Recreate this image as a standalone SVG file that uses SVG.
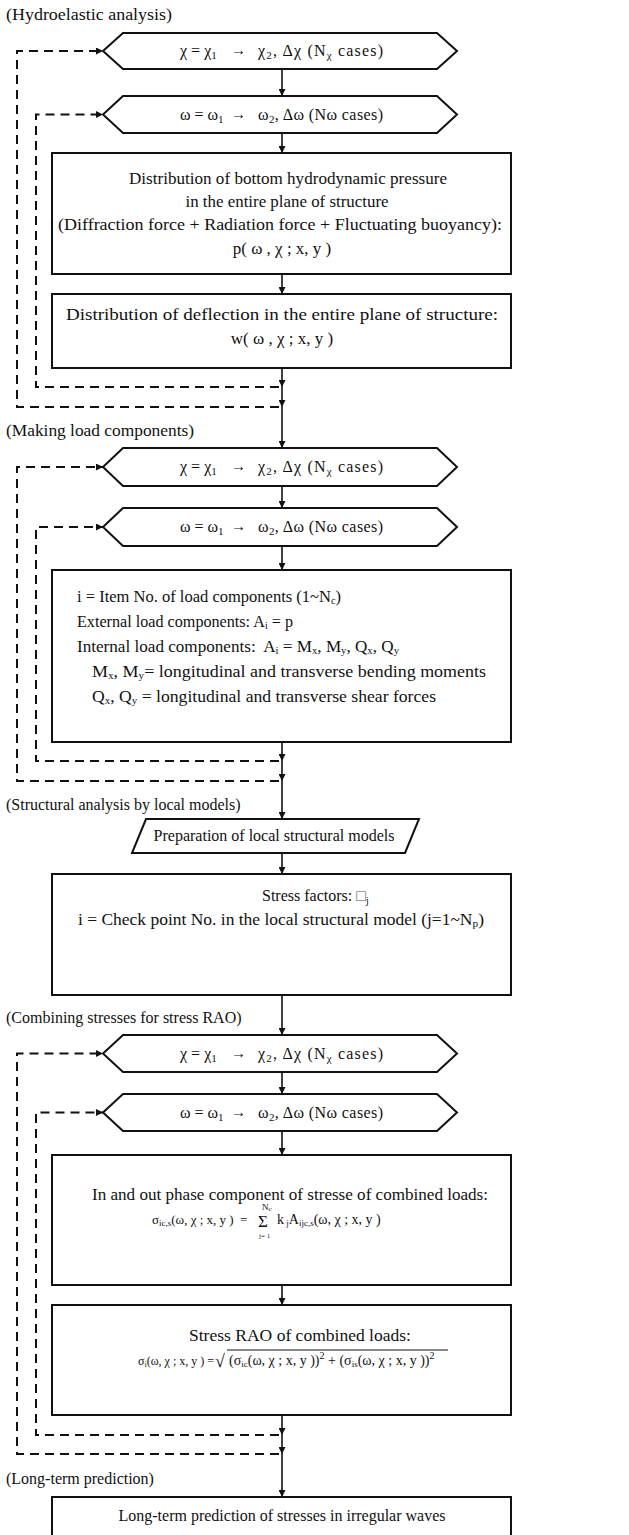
<svg xmlns="http://www.w3.org/2000/svg" width="629" height="1535" viewBox="0 0 629 1535">
<style>
text{font-family:"Liberation Serif","Times New Roman",serif;fill:#111}
.lbl{font-size:16px}
.hx{font-size:16px}
.ar{font-size:15px}
.bx{font-size:17px}
.bl{font-size:16px}
.fm{font-size:14px}
.shape{fill:#fff;stroke:#111;stroke-width:2}
.solid{fill:none;stroke:#111;stroke-width:1.6}
.dash{fill:none;stroke:#111;stroke-width:2;stroke-dasharray:9 6}
</style>
<defs>
<marker id="ah" markerUnits="userSpaceOnUse" markerWidth="8" markerHeight="7" refX="7" refY="3.5" orient="auto"><path d="M0,0 L7,3.5 L0,7 z" fill="#111"/></marker>
</defs>
<rect width="629" height="1535" fill="#fff"/>

<g id="connectors">
<path class="solid" marker-end="url(#ah)" d="M282,69 V96"/>
<path class="solid" marker-end="url(#ah)" d="M282,133 V153"/>
<path class="solid" marker-end="url(#ah)" d="M282,274 V294"/>
<path class="solid" marker-end="url(#ah)" d="M282,368 V387"/>
<path class="solid" marker-end="url(#ah)" d="M282,387 V407"/>
<path class="solid" marker-end="url(#ah)" d="M282,407 V448"/>
<path class="dash" marker-end="url(#ah)" d="M279,387 H36 V114.5 H103"/>
<path class="dash" marker-end="url(#ah)" d="M279,407 H17 V51 H103"/>

<path class="solid" marker-end="url(#ah)" d="M282,486 V508"/>
<path class="solid" marker-end="url(#ah)" d="M282,546 V570"/>
<path class="solid" marker-end="url(#ah)" d="M282,742 V761"/>
<path class="solid" marker-end="url(#ah)" d="M282,761 V781"/>
<path class="solid" marker-end="url(#ah)" d="M282,781 V819"/>
<path class="dash" marker-end="url(#ah)" d="M279,761 H36 V527 H103"/>
<path class="dash" marker-end="url(#ah)" d="M279,781 H17 V467 H103"/>

<path class="solid" marker-end="url(#ah)" d="M282,853 V874"/>
<path class="solid" marker-end="url(#ah)" d="M282,995 V1035"/>

<path class="solid" marker-end="url(#ah)" d="M282,1072 V1094"/>
<path class="solid" marker-end="url(#ah)" d="M282,1131 V1155"/>
<path class="solid" marker-end="url(#ah)" d="M282,1285 V1305"/>
<path class="solid" marker-end="url(#ah)" d="M282,1415 V1435"/>
<path class="solid" marker-end="url(#ah)" d="M282,1435 V1454"/>
<path class="solid" marker-end="url(#ah)" d="M282,1454 V1497"/>
<path class="dash" marker-end="url(#ah)" d="M279,1435 H36 V1112.5 H103"/>
<path class="dash" marker-end="url(#ah)" d="M279,1454 H17 V1053.5 H103"/>
</g>

<g id="label-hydro"><text class="lbl" x="6" y="20" textLength="166" lengthAdjust="spacingAndGlyphs">(Hydroelastic analysis)</text></g>

<g id="hex1">
<polygon class="shape" points="103,51 123,33 437,33 457,51 437,69 123,69"/>
<text class="hx" x="180" y="56">χ = χ<tspan font-size="11" dy="3">1</tspan></text>
<text class="ar" x="231" y="55">→</text>
<text class="hx" x="258" y="56" textLength="125" lengthAdjust="spacing">χ<tspan font-size="11" dy="3">2</tspan><tspan dy="-3">, Δχ  (N</tspan><tspan font-size="11" dy="3">χ</tspan><tspan dy="-3"> cases)</tspan></text>
</g>
<g id="hex2">
<polygon class="shape" points="103,114.5 123,96 437,96 457,114.5 437,133 123,133"/>
<text class="hx" x="180" y="119.5">ω = ω<tspan font-size="11" dy="3">1</tspan></text>
<text class="ar" x="231" y="118.5">→</text>
<text class="hx" x="258" y="119.5" textLength="125" lengthAdjust="spacing">ω<tspan font-size="11" dy="3">2</tspan><tspan dy="-3">, Δω (Nω cases)</tspan></text>
</g>
<g id="box1">
<rect class="shape" x="52" y="153" width="459" height="121"/>
<text class="bx" x="288" y="184" text-anchor="middle" textLength="318" lengthAdjust="spacingAndGlyphs">Distribution of bottom hydrodynamic pressure</text>
<text class="bx" x="287" y="207" text-anchor="middle" textLength="203" lengthAdjust="spacingAndGlyphs">in the entire plane of structure</text>
<text class="bx" x="280" y="230" text-anchor="middle" textLength="444" lengthAdjust="spacingAndGlyphs">(Diffraction force + Radiation force + Fluctuating buoyancy):</text>
<text class="bx" x="282" y="254" text-anchor="middle" xml:space="preserve">p( ω , χ ; x, y )</text>
</g>
<g id="box2">
<rect class="shape" x="52" y="294" width="459" height="74"/>
<text class="bx" x="282" y="320" text-anchor="middle" textLength="432" lengthAdjust="spacingAndGlyphs">Distribution of deflection in the entire plane of structure:</text>
<text class="bx" x="282" y="344" text-anchor="middle">w( ω , χ ; x, y )</text>
</g>

<g id="label-load"><text class="lbl" x="6" y="436" textLength="188" lengthAdjust="spacingAndGlyphs">(Making load components)</text></g>
<g id="hex3">
<polygon class="shape" points="103,467 123,448 437,448 457,467 437,486 123,486"/>
<text class="hx" x="180" y="472">χ = χ<tspan font-size="11" dy="3">1</tspan></text>
<text class="ar" x="231" y="471">→</text>
<text class="hx" x="258" y="472" textLength="125" lengthAdjust="spacing">χ<tspan font-size="11" dy="3">2</tspan><tspan dy="-3">, Δχ  (N</tspan><tspan font-size="11" dy="3">χ</tspan><tspan dy="-3"> cases)</tspan></text>
</g>
<g id="hex4">
<polygon class="shape" points="103,527 123,508 437,508 457,527 437,546 123,546"/>
<text class="hx" x="180" y="532">ω = ω<tspan font-size="11" dy="3">1</tspan></text>
<text class="ar" x="231" y="531">→</text>
<text class="hx" x="258" y="532" textLength="125" lengthAdjust="spacing">ω<tspan font-size="11" dy="3">2</tspan><tspan dy="-3">, Δω (Nω cases)</tspan></text>
</g>
<g id="box3">
<rect class="shape" x="52" y="570" width="459" height="172"/>
<text class="bl" x="77" y="602" textLength="264" lengthAdjust="spacingAndGlyphs">i = Item No. of load components (1~N<tspan font-size="10" dy="2">c</tspan><tspan dy="-2">)</tspan></text>
<text class="bl" x="77" y="627" textLength="216" lengthAdjust="spacingAndGlyphs">External load components: A<tspan font-size="10" dy="2">i</tspan><tspan dy="-2"> = p</tspan></text>
<text class="bl" x="77" y="652" textLength="322" lengthAdjust="spacingAndGlyphs" xml:space="preserve">Internal load components:  A<tspan font-size="10" dy="2">i</tspan><tspan dy="-2"> = M</tspan><tspan font-size="10" dy="2">x</tspan><tspan dy="-2">, M</tspan><tspan font-size="10" dy="2">y</tspan><tspan dy="-2">, Q</tspan><tspan font-size="10" dy="2">x</tspan><tspan dy="-2">, Q</tspan><tspan font-size="10" dy="2">y</tspan></text>
<text class="bl" x="92" y="677" textLength="394" lengthAdjust="spacingAndGlyphs">M<tspan font-size="10" dy="2">x</tspan><tspan dy="-2">, M</tspan><tspan font-size="10" dy="2">y</tspan><tspan dy="-2">= longitudinal and transverse bending moments</tspan></text>
<text class="bl" x="92" y="702" textLength="344" lengthAdjust="spacingAndGlyphs">Q<tspan font-size="10" dy="2">x</tspan><tspan dy="-2">, Q</tspan><tspan font-size="10" dy="2">y</tspan><tspan dy="-2"> = longitudinal and transverse shear forces</tspan></text>
</g>

<g id="label-struct"><text class="lbl" x="6" y="810">(Structural analysis by local models)</text></g>
<g id="para1">
<polygon class="shape" points="146,819 419,819 405,853 132,853"/>
<text class="lbl" x="274" y="841" text-anchor="middle">Preparation of local structural models</text>
</g>
<g id="box4">
<rect class="shape" x="52" y="874" width="459" height="121"/>
<text class="lbl" x="262" y="901">Stress factors: <tspan fill="#555">□</tspan><tspan font-size="10" dy="3">j</tspan></text>
<text class="bx" x="281" y="925" text-anchor="middle" textLength="406" lengthAdjust="spacingAndGlyphs">i = Check point No. in the local structural model (j=1~N<tspan font-size="11" dy="2">p</tspan><tspan dy="-2">)</tspan></text>
</g>

<g id="label-comb"><text class="lbl" x="6" y="1023">(Combining stresses for stress RAO)</text></g>
<g id="hex5">
<polygon class="shape" points="103,1053.5 123,1035 437,1035 457,1053.5 437,1072 123,1072"/>
<text class="hx" x="180" y="1058.5">χ = χ<tspan font-size="11" dy="3">1</tspan></text>
<text class="ar" x="231" y="1057.5">→</text>
<text class="hx" x="258" y="1058.5" textLength="125" lengthAdjust="spacing">χ<tspan font-size="11" dy="3">2</tspan><tspan dy="-3">, Δχ  (N</tspan><tspan font-size="11" dy="3">χ</tspan><tspan dy="-3"> cases)</tspan></text>
</g>
<g id="hex6">
<polygon class="shape" points="103,1112.5 123,1094 437,1094 457,1112.5 437,1131 123,1131"/>
<text class="hx" x="180" y="1117.5">ω = ω<tspan font-size="11" dy="3">1</tspan></text>
<text class="ar" x="231" y="1116.5">→</text>
<text class="hx" x="258" y="1117.5" textLength="125" lengthAdjust="spacing">ω<tspan font-size="11" dy="3">2</tspan><tspan dy="-3">, Δω (Nω cases)</tspan></text>
</g>
<g id="box5">
<rect class="shape" x="52" y="1155" width="459" height="130"/>
<text class="lbl" x="290" y="1200" text-anchor="middle" textLength="396" lengthAdjust="spacingAndGlyphs">In and out phase component of stresse of combined loads:</text>
<text x="152" y="1224" font-size="13" xml:space="preserve">σ<tspan font-size="9" dy="2">ic,s</tspan><tspan dy="-2">(ω, χ ; x, y )  =</tspan></text>
<text x="258" y="1227" font-size="17">Σ</text>
<text x="262" y="1210" font-size="9">N<tspan font-size="7" dy="1">c</tspan></text>
<text x="259" y="1238" font-size="7">j= 1</text>
<text class="fm" x="277" y="1224" xml:space="preserve">k<tspan font-size="9" dy="2"> j</tspan><tspan dy="-2">A</tspan><tspan font-size="9" dy="2">ijc,s</tspan><tspan dy="-2">(ω, χ ; x, y )</tspan></text>
</g>
<g id="box6">
<rect class="shape" x="52" y="1305" width="459" height="110"/>
<text class="bx" x="189" y="1341" textLength="222" lengthAdjust="spacingAndGlyphs">Stress RAO of combined loads:</text>
<text x="138" y="1365" font-size="12" xml:space="preserve">σ<tspan font-size="8" dy="2">i</tspan><tspan dy="-2">(ω, χ ; x, y ) =</tspan></text>
<text x="215" y="1367" font-size="18">√</text>
<line x1="227" y1="1350" x2="448" y2="1350" stroke="#111" stroke-width="1"/>
<text class="fm" x="229" y="1365" xml:space="preserve">(σ<tspan font-size="9" dy="2">ic</tspan><tspan dy="-2">(ω, χ ; x, y ))</tspan><tspan font-size="10" dy="-6">2</tspan><tspan dy="6"> + (σ</tspan><tspan font-size="9" dy="2">is</tspan><tspan dy="-2">(ω, χ ; x, y ))</tspan><tspan font-size="10" dy="-6">2</tspan></text>
</g>

<g id="label-long"><text class="lbl" x="6" y="1484">(Long-term prediction)</text></g>
<g id="box7">
<rect class="shape" x="52" y="1497" width="459" height="60"/>
<text class="lbl" x="282" y="1521" text-anchor="middle">Long-term prediction of stresses in irregular waves</text>
</g>
</svg>
